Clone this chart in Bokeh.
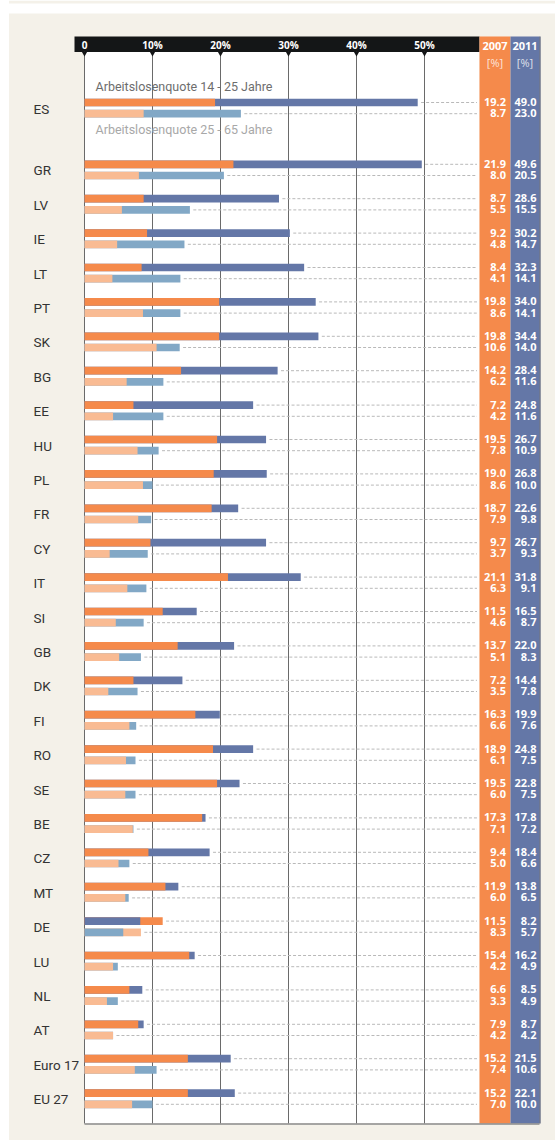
import numpy as np
from bokeh.plotting import figure
from bokeh.models import Range1d, ColumnDataSource
from bokeh.core.properties import value
from bokeh.embed import file_html
from bokeh.resources import INLINE

# ---------------- data ----------------
countries = ["ES", "GR", "LV", "IE", "LT", "PT", "SK", "BG", "EE", "HU", "PL", "FR",
             "CY", "IT", "SI", "GB", "DK", "FI", "RO", "SE", "BE", "CZ", "MT", "DE",
             "LU", "NL", "AT", "Euro 17", "EU 27"]
youth_2007 = [19.2, 21.9, 8.7, 9.2, 8.4, 19.8, 19.8, 14.2, 7.2, 19.5, 19.0, 18.7,
              9.7, 21.1, 11.5, 13.7, 7.2, 16.3, 18.9, 19.5, 17.3, 9.4, 11.9, 11.5,
              15.4, 6.6, 7.9, 15.2, 15.2]
youth_2011 = [49.0, 49.6, 28.6, 30.2, 32.3, 34.0, 34.4, 28.4, 24.8, 26.7, 26.8, 22.6,
              26.7, 31.8, 16.5, 22.0, 14.4, 19.9, 24.8, 22.8, 17.8, 18.4, 13.8, 8.2,
              16.2, 8.5, 8.7, 21.5, 22.1]
adult_2007 = [8.7, 8.0, 5.5, 4.8, 4.1, 8.6, 10.6, 6.2, 4.2, 7.8, 8.6, 7.9,
              3.7, 6.3, 4.6, 5.1, 3.5, 6.6, 6.1, 6.0, 7.1, 5.0, 6.0, 8.3,
              4.2, 3.3, 4.2, 7.4, 7.0]
adult_2011 = [23.0, 20.5, 15.5, 14.7, 14.1, 14.1, 14.0, 11.6, 11.6, 10.9, 10.0, 9.8,
              9.3, 9.1, 8.7, 8.3, 7.8, 7.6, 7.5, 7.5, 7.2, 6.6, 6.5, 5.7,
              4.9, 4.9, 4.2, 10.6, 10.0]
tick_values = [0, 10, 20, 30, 40, 50]
tick_labels = ["0", "10%", "20%", "30%", "40%", "50%"]
years = ["2007", "2011"]
unit_label = "[%]"
legend_labels = ["Arbeitslosenquote 14 - 25 Jahre", "Arbeitslosenquote 25 - 65 Jahre"]

# ---------------- layout helpers ----------------
W, H = 555, 1140
X0 = 84.0      # page x of 0 %
PX = 6.8       # pixels per percent


def dx(page_x):
    return (page_x - X0) / PX


def dy(page_y):
    return page_y


BEIGE = "#f4f1e9"
ORANGE = "#f58a4b"
BLUE = "#6477a7"
LORANGE = "#f9bb93"
LBLUE = "#82a8c6"
HEADER = "#141617"
LABEL_FONT = "Roboto"
NUM_FONT = "Open Sans"

p = figure(width=W, height=H, output_backend="svg", toolbar_location=None,
           x_range=Range1d(dx(0), dx(W)), y_range=Range1d(dy(H), dy(0)),
           min_border=0, x_axis_type=None, y_axis_type=None)
p.outline_line_color = None
p.background_fill_color = "white"
p.border_fill_color = "white"
p.xgrid.visible = False
p.ygrid.visible = False

# beige panels
p.quad(left=[dx(8.5), dx(8.5)], right=[dx(W), dx(W)], top=[dy(0), dy(13)], bottom=[dy(3), dy(H)],
       fill_color=BEIGE, line_color=None)

# plot area, header, columns
col_left, col_mid, col_right = dx(479), dx(510), dx(539)
p.quad(left=0, right=col_left, top=dy(51), bottom=dy(1123), fill_color="white", line_color=None)
p.quad(left=dx(74), right=col_left, top=dy(36), bottom=dy(51.5), fill_color=HEADER, line_color=None)
p.quad(left=col_left, right=col_mid, top=dy(36), bottom=dy(1123), fill_color=ORANGE, line_color=None)
p.quad(left=col_mid, right=col_right, top=dy(36), bottom=dy(1123), fill_color=BLUE, line_color=None)
p.segment(x0=dx(539.5), y0=dy(36), x1=dx(539.5), y1=dy(1123), line_color="#2f3b5c", line_width=1)

# grid lines + tick markers
p.segment(x0=tick_values, y0=[dy(51)] * len(tick_values), x1=tick_values, y1=[dy(1123)] * len(tick_values),
          line_color="#6a6a6a", line_width=1)
p.scatter(x=tick_values, y=[dy(52.5)] * len(tick_values), marker="inverted_triangle", size=6,
          fill_color=HEADER, line_color=None)
p.segment(x0=[0], y0=[dy(1123.5)], x1=[col_right], y1=[dy(1123.5)], line_color="#8a8a8a", line_width=1.5)
p.text(x=tick_values, y=[dy(44.5)] * len(tick_values), text=tick_labels, text_align="center",
       text_baseline="middle", text_color="white", text_font=value(NUM_FONT), text_font_size="10px",
       text_font_style="bold")

# column headers
hx = [(col_left + col_mid) / 2, (col_mid + col_right) / 2]
p.text(x=hx, y=[dy(45)] * 2, text=years, text_align="center", text_baseline="middle",
       text_color="white", text_font=value(NUM_FONT), text_font_size="11px", text_font_style="bold")
p.text(x=hx, y=[dy(61.5)] * 2, text=[unit_label] * 2, text_align="center", text_baseline="middle",
       text_color="white", text_alpha=0.8, text_font=value(NUM_FONT), text_font_size="11px")

# rows
n = len(countries)
row_page = [107.6] + [169.4 + 34.4 * i for i in range(n - 1)]
row_y = np.array([dy(v) for v in row_page])
top_y = row_y - 5.6
bot_y = row_y + 5.6
BAR_H = 7.7


def layered(y, v07, v11, c07, c11):
    v07 = np.array(v07)
    v11 = np.array(v11)
    orange_front = v07 <= v11
    back_v = np.where(orange_front, v11, v07)
    front_v = np.where(orange_front, v07, v11)
    back_c = np.where(orange_front, c11, c07)
    front_c = np.where(orange_front, c07, c11)
    src = ColumnDataSource(dict(y=y, back=back_v, front=front_v, bc=back_c, fc=front_c,
                                ds=np.maximum(v07, v11) + 0.5, de=[dx(476.5)] * len(y)))
    p.segment(x0="ds", y0="y", x1="de", y1="y", source=src, line_color="#b9b9b9", line_width=1,
              line_dash="3 2")
    p.hbar(y="y", left=0, right="back", height=BAR_H, fill_color="bc", line_color=None, source=src)
    p.hbar(y="y", left=0, right="front", height=BAR_H, fill_color="fc", line_color=None, source=src)


layered(top_y, youth_2007, youth_2011, ORANGE, BLUE)
layered(bot_y, adult_2007, adult_2011, LORANGE, LBLUE)

# value labels
num_kw = dict(text_align="right", text_baseline="middle", text_color="white",
              text_font=value(NUM_FONT), text_font_size="11px", text_font_style="bold")
fmt = lambda arr: [f"{v:.1f}" for v in arr]
p.text(x=[dx(505.5)] * n, y=top_y - 0.5, text=fmt(youth_2007), **num_kw)
p.text(x=[dx(505.5)] * n, y=bot_y - 0.5, text=fmt(adult_2007), **num_kw)
p.text(x=[dx(536)] * n, y=top_y - 0.5, text=fmt(youth_2011), **num_kw)
p.text(x=[dx(536)] * n, y=bot_y - 0.5, text=fmt(adult_2011), **num_kw)

# country labels
p.text(x=[dx(33)] * n, y=row_y + 0.5, text=countries, text_align="left", text_baseline="middle",
       text_color="#333333", text_font=value(LABEL_FONT), text_font_size="13.5px")

# legend texts
p.text(x=[dx(95)], y=[dy(86.3)], text=[legend_labels[0]], text_align="left", text_baseline="middle",
       text_color="#6d6d6d", text_font=value(LABEL_FONT), text_font_size="12.5px")
p.text(x=[dx(95)], y=[dy(128.7)], text=[legend_labels[1]], text_align="left", text_baseline="middle",
       text_color="#a8a8a8", text_font=value(LABEL_FONT), text_font_size="12.5px")

open("out.html", "w").write(file_html(p, INLINE))
